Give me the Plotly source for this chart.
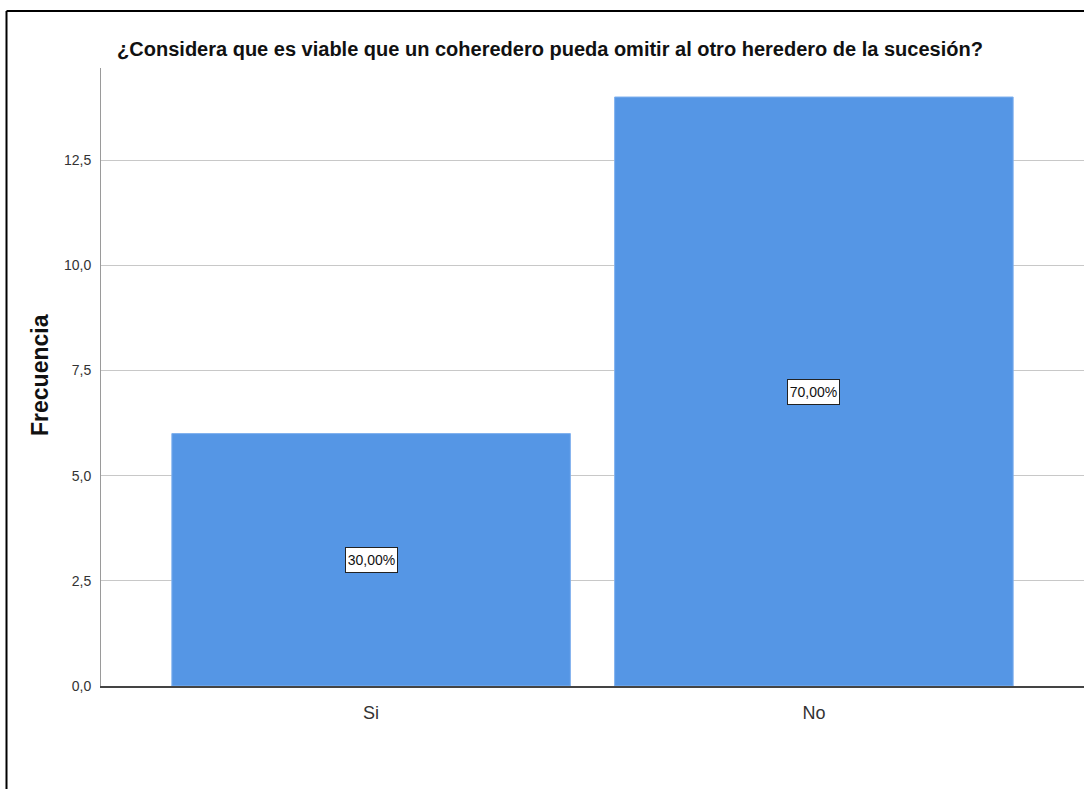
import plotly.graph_objects as go

categories = ["Si", "No"]
frequencies = [6, 14]
percent_labels = ["30,00%", "70,00%"]
y_ticks = [0, 2.5, 5, 7.5, 10, 12.5]

W, H = 1084, 789
L, R, T, B = 101, 0, 68, 103
pw, ph = W - L - R, H - T - B

def px_x(p):
    return (p - L) / pw

def px_y(p):
    return (H - B - p) / ph

FONT = "Liberation Sans, Arial, sans-serif"

fig = go.Figure()
fig.add_trace(go.Bar(
    x=categories, y=frequencies, width=0.9,
    marker=dict(color="#5596E5", line=dict(color="#7FB0EE", width=1)),
    hoverinfo="skip",
))

for c, v, lab in zip(categories, frequencies, percent_labels):
    fig.add_annotation(
        x=c, y=v / 2, text=lab, showarrow=False,
        font=dict(family=FONT, size=14, color="#111"),
        bgcolor="white", bordercolor="#222", borderwidth=1, borderpad=0,
        width=51, height=24,
    )

# y-axis title as annotation for exact placement
fig.add_annotation(
    xref="paper", yref="paper", x=px_x(40), y=px_y(375),
    text="<b>Frecuencia</b>", textangle=-90, showarrow=False,
    xanchor="center", yanchor="middle",
    font=dict(family=FONT, size=23, color="#111"),
)

# frame lines (left and top)
fx, fy = px_x(6.5), px_y(11)
fig.add_shape(type="line", xref="paper", yref="paper", x0=fx, x1=1.05, y0=fy, y1=fy,
              line=dict(color="black", width=2))
fig.add_shape(type="line", xref="paper", yref="paper", x0=fx, x1=fx, y0=fy, y1=-0.3,
              line=dict(color="black", width=2))

fig.update_layout(
    width=W, height=H,
    margin=dict(l=L, r=R, t=T, b=B),
    paper_bgcolor="white", plot_bgcolor="white",
    separators=",.",
    showlegend=False,
    title=dict(
        text="<b>¿Considera que es viable que un coheredero pueda omitir al otro heredero de la sucesión?</b>",
        x=550 / W, xref="container", xanchor="center",
        y=1 - 49 / H, yref="container", yanchor="middle",
        font=dict(family=FONT, size=20, color="#111"),
    ),
    xaxis=dict(
        range=[-0.61, 1.61],
        showgrid=False,
        showline=True, linecolor="#444", linewidth=1.5,
        ticks="", tickfont=dict(family=FONT, size=18, color="#333"),
        ticklabelstandoff=10,
        fixedrange=True,
    ),
    yaxis=dict(
        range=[0, 14.69],
        tickvals=y_ticks, tickformat=".1f",
        showgrid=True, gridcolor="#C8C8C8", gridwidth=1,
        zeroline=False,
        showline=True, linecolor="#9A9A9A", linewidth=1,
        ticks="", ticklabelstandoff=6,
        tickfont=dict(family=FONT, size=14, color="#333"),
        fixedrange=True,
    ),
)

fig.write_html("out.html", config={"displayModeBar": False},
               post_script="document.body.style.margin='0px';")
